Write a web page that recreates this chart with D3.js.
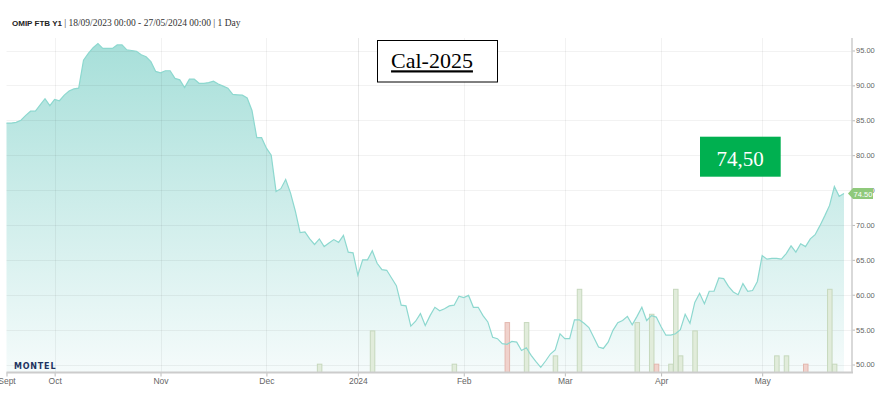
<!DOCTYPE html>
<html>
<head>
<meta charset="utf-8">
<script src="https://cdn.jsdelivr.net/npm/d3@7"></script>
<style>
    body { margin: 0; background: #fff; }
    svg { display: block; }
    .axis text { font-family: "Liberation Sans", Arial, sans-serif; fill: #666; }
</style>
</head>
<body>
<div id="chart"></div>
<script>
'use strict';

const width = 880, height = 394;
const plot = {left: 6.5, right: 844, top: 38, bottom: 372.5, axis_x: 852};

// trading calendar (weekdays without the exchange holidays)
const first_day = '2023-09-18', last_day = '2024-05-24';
const holidays = ['2023-12-25', '2023-12-26', '2024-01-01', '2024-03-29', '2024-04-01'];

// closing prices, one per trading day
const price_values = [
    84.6, 84.6, 84.7, 85.0, 85.7, 86.3, 86.3, 87.2, 88.1, 87.1,
    88.0, 87.8, 88.6, 89.2, 89.5, 89.6, 93.6, 94.6, 95.4, 96.0,
    95.3, 95.3, 95.3, 95.8, 95.8, 95.1, 95.0, 94.9, 94.4, 94.1,
    93.4, 92.0, 91.8, 92.1, 92.1, 91.0, 90.8, 89.7, 90.9, 90.9,
    90.3, 90.3, 90.4, 90.6, 90.2, 89.9, 89.6, 88.7, 88.65, 88.6,
    88.2, 86.4, 82.5, 82.5, 81.0, 80.0, 74.8, 75.2, 76.5, 74.6,
    72.0, 68.9, 69.0, 68.0, 67.2, 68.0, 66.9, 67.4, 67.9, 67.5,
    68.5, 66.1, 66.0, 62.8, 65.0, 65.0, 66.3, 64.5, 63.6, 63.5,
    62.4, 61.3, 58.5, 58.4, 55.5, 56.2, 57.3, 55.6, 57.0, 58.2,
    57.7, 58.0, 58.4, 58.5, 59.8, 59.6, 59.9, 58.2, 58.2, 57.0,
    56.1, 53.9, 53.7, 53.0, 52.9, 53.3, 53.2, 52.0, 52.4, 51.3,
    50.4, 49.6, 50.5, 51.5, 52.1, 54.4, 53.7, 53.7, 56.4, 56.4,
    55.9, 55.3, 53.9, 52.5, 52.3, 53.2, 54.9, 56.0, 56.3, 56.9,
    55.7, 56.9, 58.2, 56.3, 57.0, 56.8, 55.4, 54.2, 54.2, 54.4,
    55.0, 57.2, 55.9, 58.9, 60.2, 58.7, 60.5, 60.5, 62.4, 62.3,
    61.2, 60.4, 60.0, 61.6, 60.5, 60.6, 61.9, 65.6, 65.1, 65.2,
    65.2, 65.1, 65.9, 67.0, 66.1, 67.3, 66.9, 68.0, 68.6, 69.9,
    71.3, 72.8, 75.5, 74.1, 74.5
];

// traded volume
const volume_dates = ['2023-12-18', '2024-01-05', '2024-01-30', '2024-02-14', '2024-02-20', '2024-02-28',
    '2024-03-06', '2024-03-22', '2024-03-27', '2024-03-28', '2024-04-04', '2024-04-05', '2024-04-08',
    '2024-04-11', '2024-05-06', '2024-05-08', '2024-05-14', '2024-05-21', '2024-05-22'];
const volume_values = [1, 5, 1, 6, 6, 2, 10, 6, 7, 1, 1, 10, 2, 5, 2, 2, 1, 10, 1];
const volume_down = ['2024-02-14', '2024-03-28', '2024-05-14'];

const tick_dates = ['2023-09-18', '2023-10-02', '2023-11-01', '2023-12-01', '2024-01-02',
    '2024-02-01', '2024-03-01', '2024-04-02', '2024-05-01'];
const tick_labels = ['Sept', 'Oct', 'Nov', 'Dec', '2024', 'Feb', 'Mar', 'Apr', 'May'];
const price_ticks = [50, 55, 60, 65, 70, 75, 80, 85, 90, 95];
const last_price = '74.50';

const fmt = d3.utcFormat('%Y-%m-%d');
const trading_days = d3.utcDays(new Date(first_day), d3.utcDay.offset(new Date(last_day), 1))
    .filter(d => d.getUTCDay() !== 0 && d.getUTCDay() !== 6)
    .map(fmt)
    .filter(d => !holidays.includes(d));
const prices = trading_days.map((d, i) => ({date: d, value: price_values[i]}));
const volumes = volume_dates.map((d, i) => ({date: d, value: volume_values[i], down: volume_down.includes(d)}));

const xScale = d3.scalePoint().domain(trading_days).range([plot.left, plot.right]);
const yScale = d3.scaleLinear().domain([50, 95]).range([364.5, 50.5]);
const vScale = d3.scaleLinear().domain([0, 10]).range([plot.bottom, 289.3]);

const svg = d3.select('#chart').append('svg')
    .attr('width', width)
    .attr('height', height);

const grad = svg.append('defs').append('linearGradient')
    .attr('id', 'area-fill')
    .attr('gradientUnits', 'userSpaceOnUse')
    .attr('x1', 0).attr('x2', 0)
    .attr('y1', plot.top).attr('y2', plot.bottom);
grad.append('stop').attr('offset', '0%').attr('stop-color', '#a6dfd9');
grad.append('stop').attr('offset', '100%').attr('stop-color', '#f5fbfb');

// area + line
svg.append('path')
    .datum(prices)
    .attr('fill', 'url(#area-fill)')
    .attr('d', d3.area().x(d => xScale(d.date)).y0(plot.bottom).y1(d => yScale(d.value)));

// grid
svg.append('g')
    .selectAll('line')
    .data(price_ticks)
    .join('line')
    .attr('x1', plot.left).attr('x2', plot.axis_x)
    .attr('y1', d => Math.round(yScale(d)) + 0.5).attr('y2', d => Math.round(yScale(d)) + 0.5)
    .attr('stroke', 'rgba(0,0,0,0.05)');
svg.append('g')
    .selectAll('line')
    .data(tick_dates.slice(1))
    .join('line')
    .attr('x1', d => Math.round(xScale(d)) + 0.5).attr('x2', d => Math.round(xScale(d)) + 0.5)
    .attr('y1', plot.top).attr('y2', plot.bottom)
    .attr('stroke', d => d === '2024-01-02' ? 'rgba(0,0,0,0.09)' : 'rgba(0,0,0,0.05)');

// volume bars
svg.append('g')
    .selectAll('rect')
    .data(volumes)
    .join('rect')
    .attr('x', d => xScale(d.date) - 2)
    .attr('y', d => vScale(d.value))
    .attr('width', 4.5)
    .attr('height', d => plot.bottom - vScale(d.value))
    .attr('fill', d => d.down ? '#f0d2cc' : '#e1ecdb')
    .attr('stroke', d => d.down ? '#e3b7ae' : '#c6d8bd')
    .attr('stroke-width', 1);

svg.append('path')
    .datum(prices)
    .attr('fill', 'none')
    .attr('stroke', '#8dd8cf')
    .attr('stroke-width', 1.2)
    .attr('d', d3.line().x(d => xScale(d.date)).y(d => yScale(d.value)));

// axes
const xAxis = d3.axisBottom(xScale)
    .tickValues(tick_dates)
    .tickFormat((d, i) => tick_labels[i])
    .tickSizeInner(4)
    .tickSizeOuter(0)
    .tickPadding(1);
const gx = svg.append('g')
    .attr('class', 'axis x-axis')
    .attr('transform', `translate(0,${plot.bottom})`)
    .call(xAxis);
gx.select('.domain').remove();
gx.selectAll('.tick line').attr('stroke', '#bbb');
gx.selectAll('text').attr('font-size', 8.5);
svg.append('line')
    .attr('x1', plot.left).attr('x2', plot.axis_x + 1)
    .attr('y1', plot.bottom).attr('y2', plot.bottom)
    .attr('stroke', '#ccc').attr('stroke-width', 2);

const yAxis = d3.axisRight(yScale)
    .tickValues(price_ticks)
    .tickFormat(d3.format('.2f'))
    .tickSizeInner(3)
    .tickSizeOuter(0)
    .tickPadding(1);
const gy = svg.append('g')
    .attr('class', 'axis y-axis')
    .attr('transform', `translate(${plot.axis_x},0)`)
    .call(yAxis);
gy.select('.domain').remove();
gy.selectAll('.tick line').attr('stroke', '#bbb');
gy.selectAll('text').attr('font-size', 7.5).attr('fill', '#777');
svg.append('line')
    .attr('x1', plot.axis_x).attr('x2', plot.axis_x)
    .attr('y1', plot.top).attr('y2', plot.bottom)
    .attr('stroke', '#ccc').attr('stroke-width', 1.5);

// last price flag
const ly = yScale(+last_price);
svg.append('path')
    .attr('d', `M${plot.axis_x - 4},${ly} L${plot.axis_x + 1},${ly - 5.5} L873,${ly - 5.5} L873,${ly + 5.5} L${plot.axis_x + 1},${ly + 5.5} Z`)
    .attr('fill', '#8fc97b');
svg.append('text')
    .attr('x', 863).attr('y', ly + 3)
    .attr('text-anchor', 'middle')
    .attr('font-family', '"Liberation Sans", Arial, sans-serif')
    .attr('font-size', 7.5)
    .attr('fill', '#fff')
    .text(last_price);

// title
const title = svg.append('text')
    .attr('x', 12).attr('y', 26)
    .attr('fill', '#333');
title.append('tspan')
    .attr('font-family', '"Liberation Sans", Arial, sans-serif')
    .attr('font-weight', 'bold')
    .attr('font-size', 8)
    .attr('fill', '#222')
    .text('OMIP FTB Y1 ');
title.append('tspan')
    .attr('font-family', '"Liberation Serif", Georgia, serif')
    .attr('font-size', 9.5)
    .text('| 18/09/2023 00:00 - 27/05/2024 00:00 | 1 Day');

// logo
svg.append('text')
    .attr('x', 14).attr('y', 369)
    .attr('font-family', '"DejaVu Sans", Verdana, sans-serif')
    .attr('font-weight', 'bold')
    .attr('font-size', 8)
    .attr('letter-spacing', 0.8)
    .attr('fill', '#1f3461')
    .text('MONTEL');

// annotations
svg.append('rect')
    .attr('x', 377.5).attr('y', 40.5).attr('width', 120).attr('height', 41.5)
    .attr('fill', '#fff').attr('stroke', '#000').attr('stroke-width', 1);
svg.append('text')
    .attr('x', 432).attr('y', 68.3)
    .attr('text-anchor', 'middle')
    .attr('font-family', '"Liberation Serif", Cambria, serif')
    .attr('font-size', 22)
    .attr('text-decoration', 'underline')
    .attr('fill', '#000')
    .text('Cal-2025');

svg.append('rect')
    .attr('x', 700).attr('y', 136.7).attr('width', 80.7).attr('height', 40)
    .attr('fill', '#00b050');
svg.append('text')
    .attr('x', 740).attr('y', 166)
    .attr('text-anchor', 'middle')
    .attr('font-family', '"Liberation Serif", Cambria, serif')
    .attr('font-size', 21)
    .attr('fill', '#fff')
    .text('74,50');
</script>
</body>
</html>
